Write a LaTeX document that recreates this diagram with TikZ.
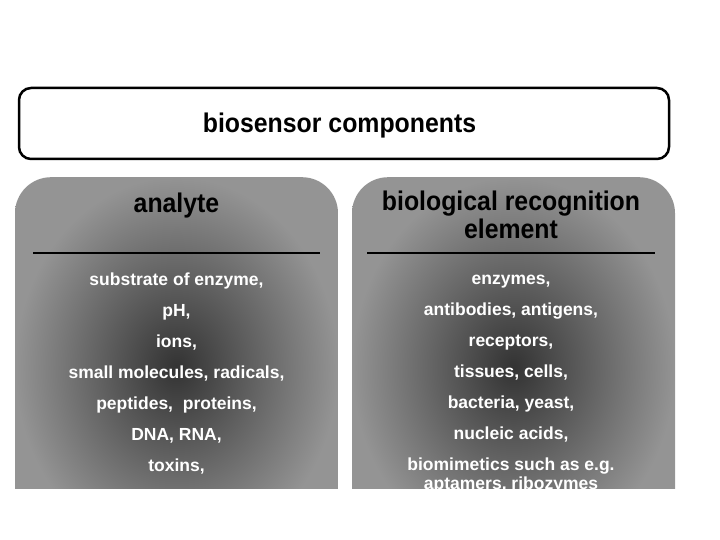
\documentclass[tikz,border=0pt]{standalone}
\usepackage{fontspec}
\setmainfont{Liberation Sans}
\newfontfamily\headfont[FakeStretch=0.92]{Liberation Sans}
\usetikzlibrary{positioning}

\begin{document}
\begin{tikzpicture}[x=1pt,y=-1pt,
  panel/.style={shade,shading=radial,inner color=black!80,outer color=black!42,
    rounded corners=36pt,minimum width=323pt,minimum height=380pt,anchor=north,inner sep=0pt},
  heading/.style={font=\headfont\bfseries\fontsize{27}{28}\selectfont,anchor=base,inner sep=0pt},
  entry/.style={font=\fontsize{17.5}{19}\selectfont\bfseries,text=white,anchor=base,inner sep=0pt},
  rule/.style={line width=2.5pt}]
\useasboundingbox (0,0) rectangle (720,540);
% title bar
\node[draw,line width=2.5pt,rounded corners=12pt,minimum width=650pt,minimum height=71pt]
  (top) at (344,123.5) {};
\node[heading] (toptitle) at (339.5,133) {biosensor components};
% the two panels, cut off at the bottom
\begin{scope}
\clip (0,0) rectangle (720,488);
\node[panel] (analyte) at (176.5,177) {};
\node[panel] (recog) at (513.5,177) {};
% headings
\node[heading] (anahead) at (176.5,212) {analyte};
\node[heading] (rechead) at (511,211) {biological recognition};
\node[heading] (rechead2) at (511,239) {element};
\draw[rule] (33,253) -- (320,253);
\draw[rule] (367,253) -- (655,253);
% analytes
\foreach \txt [count=\i] in {{substrate of enzyme,},{pH,},{ions,},
    {small molecules, radicals,},{peptides,\ \ proteins,},{DNA, RNA,},{toxins,}}
  \node[entry] (ana\i) at (176.5,{254+31*\i}) {\txt};
% recognition elements
\foreach \txt [count=\i] in {{enzymes,},{antibodies, antigens,},{receptors,},
    {tissues, cells,},{bacteria, yeast,},{nucleic acids,},{biomimetics such as e.g.}}
  \node[entry] (rec\i) at (511,{253+31*\i}) {\txt};
\node[entry] (rec8) at (511,489) {aptamers, ribozymes};
\end{scope}
\end{tikzpicture}
\end{document}
